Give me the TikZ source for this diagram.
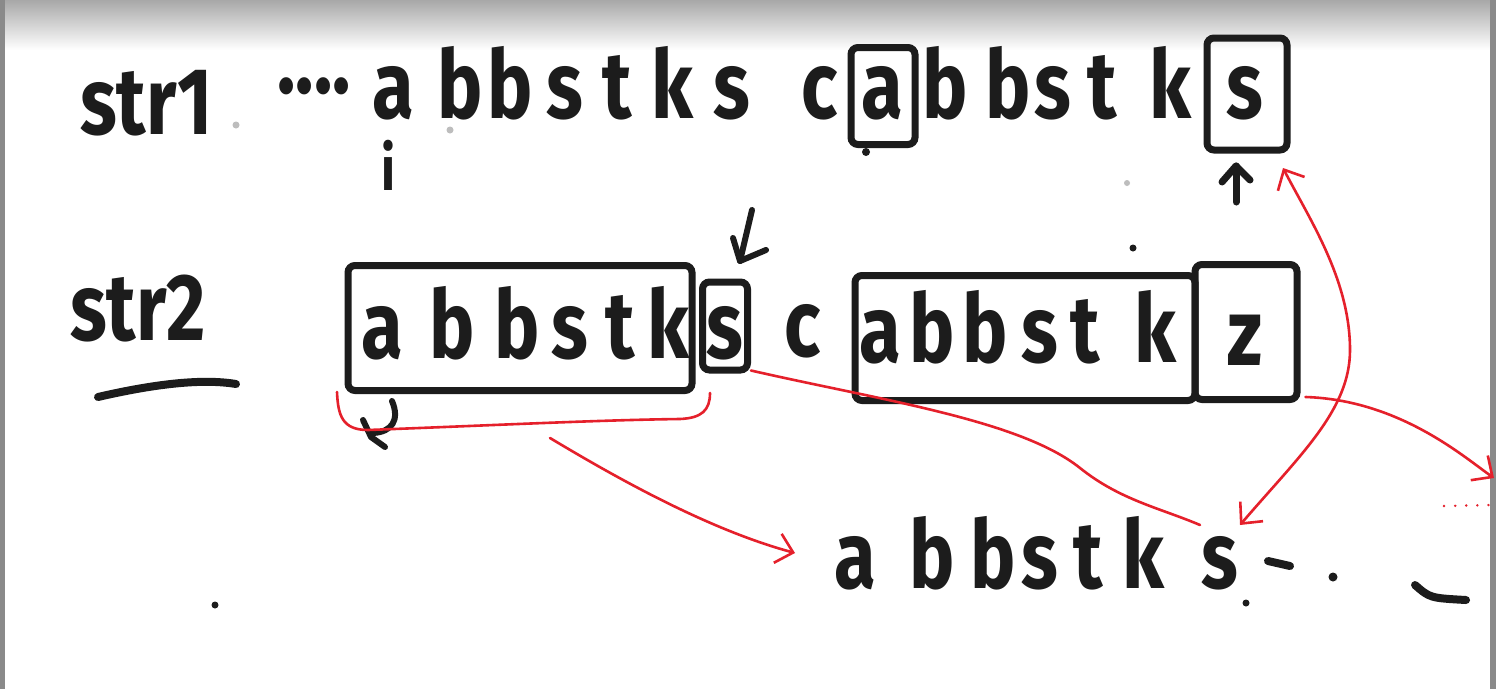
\documentclass[tikz,border=0pt]{standalone}
\usepackage{fontspec}
\setmainfont{Fira Sans}
\newfontfamily\handfont{Fira Sans}[FakeStretch=0.8]
\usetikzlibrary{arrows.meta}
\definecolor{inkc}{HTML}{1C1C1C}
\definecolor{penred}{HTML}{E5202B}
\definecolor{bargray}{HTML}{8A8A8A}
\definecolor{topgray}{HTML}{A8A8A8}
\definecolor{speck}{HTML}{BDBDBD}
\begin{document}
\begin{tikzpicture}[x=1pt,y=-1pt,
  ink/.style={font=\handfont\fontsize{95}{95}\selectfont\bfseries, text=inkc, inner sep=0pt, anchor=base},
  smallink/.style={font=\handfont\fontsize{62}{62}\selectfont\bfseries, text=inkc, inner sep=0pt, anchor=base},
  hbox/.style={draw=inkc, line width=7pt, rounded corners=7pt, inner sep=0pt},
  stroke/.style={draw=inkc, line width=7pt, line cap=round, line join=round},
  redpen/.style={draw=penred, line width=2.6pt, line cap=round, line join=round},
  barb/.tip={Straight Barb[length=16pt,width=30pt]}
]
\useasboundingbox (0,0) rectangle (1496,689);
\fill[white] (0,0) rectangle (1496,689);
\shade[top color=topgray, bottom color=white] (0,0) rectangle (1496,50);
\fill[bargray] (0,0) rectangle (5,689);
\fill[bargray] (1490,0) rectangle (1496,689);

% ---- row 1 : str1
\node[ink, anchor=base west] (str1) at (80,134) {str1};
\node[ink] (dots) at (314,115) {····};
\foreach \x/\c [count=\n] in {393/a,460/b,510/b,565/s,617/t,672/k,732/s,820/c,882/a,945/b,1008/b,1053/s,1102/t,1170/k,1245/s}
  \node[ink] (t\n) at (\x,118) {\c};
\node[hbox, minimum width=64pt, minimum height=97pt] (tabox) at (883,96) {};
\node[hbox, minimum width=80pt, minimum height=112pt] (tsbox) at (1247,94) {};
\node[smallink] (ilab) at (388,190) {i};
% up arrow under the boxed s
\coordinate (upa) at (1236,202);
\coordinate (upb) at (1236,166);
\draw[stroke] (upa) -- (upb);
\draw[stroke] (1222,182) -- (upb) -- (1250,180);

% ---- row 2 : str2
\node[ink, anchor=base west] (str2) at (70,340) {str2};
\draw[stroke, line width=8pt] (98,397) .. controls (150,385) and (200,378) .. (236,384);
\node[hbox, minimum width=344pt, minimum height=125pt] (bxa) at (520,328) {};
\foreach \x/\c [count=\n] in {382/a,452/b,517/b,570/s,620/t,668/k}
  \node[ink] (m\n) at (\x,358) {\c};
\node[hbox, minimum width=45pt, minimum height=88pt] (sbox) at (725,326) {};
\node[ink] (ms) at (725,358) {s};
\node[ink] (mc) at (803,356) {c};
\node[hbox, minimum width=340pt, minimum height=125pt] (bxb) at (1025,338) {};
\foreach \x/\c [count=\n] in {880/a,932/b,985/b,1040/s,1085/t,1155/k}
  \node[ink] (n\n) at (\x,362) {\c};
\node[hbox, minimum width=102pt, minimum height=135pt] (zbox) at (1246,332) {};
\node[ink] (nz) at (1245,365) {z};
% down-left arrow above the small s box
\coordinate (dla) at (752,210);
\coordinate (dlb) at (740,261);
\draw[stroke, line width=6pt] (dla) -- (dlb);
\draw[stroke, line width=6pt] (733,238) -- (dlb) -- (766,250);
% mark under box a
\draw[stroke, line width=6pt] (392,401) .. controls (400,420) and (392,432) .. (373,433);
\draw[stroke, line width=6pt] (363,420) -- (371,437) -- (385,447);

% ---- row 3
\foreach \x/\c [count=\n] in {855/a,932/b,993/b,1040/s,1088/t,1143/k,1220/s}
  \node[ink] (b\n) at (\x,588) {\c};
\draw[stroke, line width=8pt] (1268,561) -- (1290,566);
\fill[inkc] (1333,577) circle (4.5);
\draw[stroke, line width=8pt] (1415,585) .. controls (1430,598) .. (1466,600);

% specks
\fill[inkc] (866,152) circle (4);
\fill[inkc] (1133,248) circle (3.5);
\fill[inkc] (215,605) circle (3.5);
\fill[inkc] (1246,603) circle (3.5);
\fill[speck] (236,125) circle (3.5);
\fill[speck] (450,130) circle (3.5);
\fill[speck] (1127,183) circle (3);

% ---- red pen
\draw[redpen] (337,392) .. controls (338,415) and (342,430) .. (368,430)
  .. controls (500,425) and (600,420) .. (680,419)
  .. controls (702,418) and (710,410) .. (710,393);
\coordinate (brtail) at (550,438);
\coordinate (atip) at (795,553);
\draw[redpen, -barb] (brtail) .. controls (620,480) and (710,530) .. (atip);
\coordinate (kend) at (1200,525);
\draw[redpen] ([shift={(0,-3)}]sbox.south east) .. controls (880,400) and (1020,420) .. (1080,468)
  .. controls (1120,500) and (1160,508) .. (kend);
\coordinate (rtip) at (1494,478);
\draw[redpen, -barb] ([shift={(5,-6)}]zbox.south east) .. controls (1400,400) and (1465,458) .. (rtip);
\coordinate (stip) at (1240,525);
\coordinate (ttip) at (1283,168);
\draw[redpen, barb-barb] (stip) .. controls (1300,455) and (1350,410) .. (1350,350)
  .. controls (1350,280) and (1310,220) .. (ttip);
\draw[penred, line width=2.6pt, line cap=round, dash pattern=on 0.1pt off 11pt] (1444,506) -- (1491,505);
\end{tikzpicture}
\end{document}
